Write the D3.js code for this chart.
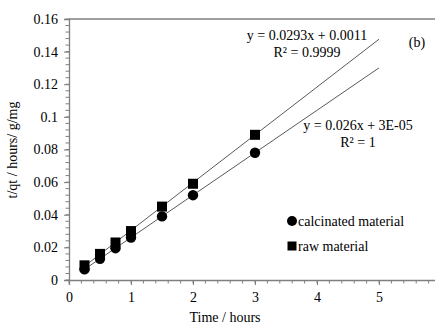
<!DOCTYPE html>
<html><head><meta charset="utf-8">
<script src="https://cdn.jsdelivr.net/npm/d3@7"></script>
<style>body{margin:0;background:#fff;} svg{display:block;} text{font-family:"Liberation Serif","Times New Roman",serif;fill:#000;}</style>
</head><body>
<svg id="c" width="435" height="325"></svg>
<script>
const timeHours = [0.25, 0.5, 0.75, 1, 1.5, 2, 3];
const calcinated = [0.0065, 0.013, 0.0195, 0.026, 0.039, 0.052, 0.078];
const raw = [0.009, 0.016, 0.023, 0.030, 0.045, 0.059, 0.089];
const fitCalc = {slope: 0.026, intercept: 0.00003, x0: 0.25, x1: 5};
const fitRaw = {slope: 0.0293, intercept: 0.0011, x0: 0.25, x1: 5};
const xTicks = [0, 1, 2, 3, 4, 5];
const yTicks = [0, 0.02, 0.04, 0.06, 0.08, 0.1, 0.12, 0.14, 0.16];

const svg = d3.select("#c");
const L = 69, R = 441, T = 19, B = 280;
const x = d3.scaleLinear().domain([0, 6]).range([L, R]);
const y = d3.scaleLinear().domain([0, 0.16]).range([B, T]);
const axisCol = "#7f7f7f";

// top border
svg.append("line").attr("x1", L).attr("x2", R).attr("y1", T).attr("y2", T)
  .attr("stroke", axisCol).attr("stroke-width", 1.3);

// minor ticks
const gx = svg.append("g");
d3.range(0, 6.01, 0.2).forEach(v => {
  gx.append("line").attr("x1", x(v)).attr("x2", x(v)).attr("y1", B).attr("y2", B + 3.5)
    .attr("stroke", axisCol).attr("stroke-width", 1);
});
d3.range(0, 0.1601, 0.004).forEach(v => {
  gx.append("line").attr("x1", L - 3.5).attr("x2", L).attr("y1", y(v)).attr("y2", y(v))
    .attr("stroke", axisCol).attr("stroke-width", 1);
});

const xAxis = svg.append("g").attr("transform", `translate(0,${B})`)
  .call(d3.axisBottom(x).tickValues(xTicks).tickFormat(d3.format("d")).tickSize(5).tickPadding(7));
const yAxis = svg.append("g").attr("transform", `translate(${L},0)`)
  .call(d3.axisLeft(y).tickValues(yTicks).tickFormat(d => d === 0 ? "0" : d3.format("")(+d.toFixed(2))).tickSize(5).tickPadding(6));
[xAxis, yAxis].forEach(g => {
  g.select(".domain").attr("stroke", axisCol).attr("stroke-width", 1.3);
  g.selectAll(".tick line").attr("stroke", axisCol);
  g.selectAll("text").attr("font-family", "Liberation Serif").attr("font-size", 14).attr("fill", "#000");
});

// trendlines
[fitRaw, fitCalc].forEach(f => {
  svg.append("line")
    .attr("x1", x(f.x0)).attr("y1", y(f.slope * f.x0 + f.intercept))
    .attr("x2", x(f.x1)).attr("y2", y(f.slope * f.x1 + f.intercept))
    .attr("stroke", "#5a5a5a").attr("stroke-width", 1);
});

// markers
svg.append("g").selectAll("rect").data(timeHours).join("rect")
  .attr("x", (d) => x(d) - 5).attr("y", (d, i) => y(raw[i]) - 5)
  .attr("width", 10).attr("height", 10).attr("fill", "#000");
svg.append("g").selectAll("circle").data(timeHours).join("circle")
  .attr("cx", d => x(d)).attr("cy", (d, i) => y(calcinated[i])).attr("r", 5.2).attr("fill", "#000");

// annotations
const t = (txt, xx, yy, anchor) => svg.append("text").attr("x", xx).attr("y", yy)
  .attr("text-anchor", anchor || "middle").attr("font-size", 14).text(txt);
t("y = 0.0293x + 0.0011", 307, 40);
t("R² = 0.9999", 307, 57);
t("(b)", 417, 47);
t("y = 0.026x + 3E-05", 358, 130);
t("R² = 1", 358, 147);

// legend
svg.append("circle").attr("cx", 292).attr("cy", 221).attr("r", 5).attr("fill", "#000");
t("calcinated material", 298, 226, "start");
svg.append("rect").attr("x", 287.5).attr("y", 241.5).attr("width", 9).attr("height", 9).attr("fill", "#000");
t("raw material", 298, 251, "start");

// axis titles
t("Time / hours", 225, 322);
svg.append("text").attr("transform", "translate(17,150) rotate(-90)")
  .attr("text-anchor", "middle").attr("font-size", 14).text("t/qt / hours/ g/mg");
</script>
</body></html>
